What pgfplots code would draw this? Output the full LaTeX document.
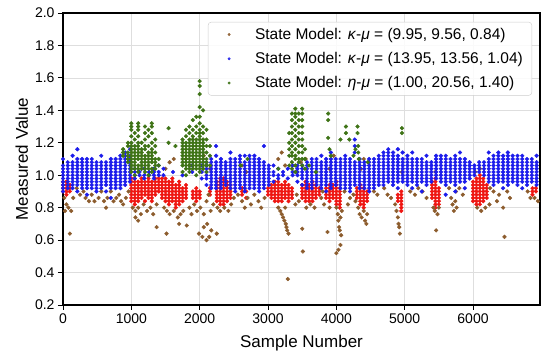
\documentclass[border=0pt]{standalone}
\usepackage{pgfplots}
\usepackage{pgfplotstable}
\pgfplotsset{compat=1.18}
\usepackage{fontspec}
\setmainfont{Liberation Sans}
\definecolor{cRed}{RGB}{238,22,18}
\definecolor{cBrown}{RGB}{140,92,45}
\definecolor{cBlue}{RGB}{28,28,235}
\definecolor{cGreen}{RGB}{62,115,22}

\pgfplotstableread{
x a b c d e f g h i j
0 0.90 0.92 0.94 0.96 nan nan nan nan nan nan
50 0.88 0.90 0.92 0.94 0.96 nan nan nan nan nan
100 0.90 0.92 0.94 nan nan nan nan nan nan nan
1000 0.84 0.86 0.88 0.90 0.92 0.94 0.96 0.98 nan nan
1050 0.82 0.84 0.86 0.88 0.90 0.92 0.94 0.96 0.98 nan
1100 0.84 0.86 0.88 0.90 0.92 0.94 0.96 nan nan nan
1150 0.86 0.88 0.90 0.92 0.94 0.96 0.98 nan nan nan
1200 0.84 0.88 0.90 0.92 0.94 0.96 nan nan nan nan
1250 0.86 0.88 0.90 0.92 0.94 0.96 0.98 nan nan nan
1300 0.84 0.86 0.88 0.90 0.92 0.94 0.96 nan nan nan
1350 0.88 0.90 0.92 0.94 0.96 0.98 nan nan nan nan
1400 0.90 0.92 0.94 0.96 0.98 nan nan nan nan nan
1450 0.86 0.88 0.90 0.92 0.94 0.96 0.98 nan nan nan
1500 0.84 0.86 0.88 0.90 0.92 0.94 0.96 0.98 nan nan
1550 0.82 0.84 0.86 0.88 0.90 0.92 0.94 0.96 nan nan
1600 0.84 0.86 0.88 0.90 0.92 0.94 0.96 0.98 nan nan
1650 0.80 0.82 0.84 0.86 0.88 0.90 0.92 0.94 nan nan
1700 0.82 0.84 0.86 0.88 0.90 0.92 0.94 0.96 nan nan
1750 0.84 0.86 0.88 0.90 0.92 nan nan nan nan nan
1800 0.86 0.88 0.90 0.92 0.94 nan nan nan nan nan
1900 0.86 0.88 0.90 nan nan nan nan nan nan nan
1950 0.84 0.86 0.88 0.90 0.92 nan nan nan nan nan
2000 0.86 0.88 0.90 nan nan nan nan nan nan nan
2150 0.88 0.90 0.92 nan nan nan nan nan nan nan
2250 0.84 0.86 0.88 0.90 0.92 0.94 0.96 nan nan nan
2300 0.82 0.84 0.86 0.88 0.90 0.92 0.94 0.96 0.98 nan
2350 0.82 0.84 0.86 0.88 0.90 0.92 0.94 0.96 0.98 nan
2400 0.84 0.86 0.88 0.90 0.92 0.94 0.96 nan nan nan
2450 0.86 0.88 0.90 0.92 0.94 nan nan nan nan nan
2620 0.88 0.90 0.92 nan nan nan nan nan nan nan
2680 0.86 0.90 nan nan nan nan nan nan nan nan
3000 0.88 0.90 0.92 nan nan nan nan nan nan nan
3050 0.86 0.88 0.90 0.92 0.94 nan nan nan nan nan
3100 0.84 0.86 0.88 0.90 0.92 0.94 0.96 nan nan nan
3150 0.84 0.86 0.88 0.90 0.92 0.94 0.96 nan nan nan
3200 0.84 0.86 0.88 0.90 0.92 0.94 nan nan nan nan
3250 0.86 0.88 0.90 0.92 0.94 0.96 nan nan nan nan
3300 0.84 0.86 0.88 0.90 0.92 0.94 nan nan nan nan
3350 0.86 0.88 0.90 0.92 nan nan nan nan nan nan
3500 0.86 0.88 0.90 0.92 0.94 nan nan nan nan nan
3550 0.84 0.86 0.88 0.90 0.92 0.94 0.96 nan nan nan
3600 0.84 0.86 0.88 0.90 0.92 0.94 nan nan nan nan
3650 0.84 0.86 0.88 0.90 0.92 0.94 0.96 nan nan nan
3700 0.86 0.88 0.90 0.92 0.94 nan nan nan nan nan
3750 0.88 0.90 0.92 nan nan nan nan nan nan nan
3850 0.86 0.88 0.90 0.92 nan nan nan nan nan nan
3900 0.84 0.86 0.88 0.90 0.92 0.94 nan nan nan nan
3950 0.86 0.88 0.90 0.92 0.94 nan nan nan nan nan
4000 0.82 0.84 0.86 0.88 0.90 0.92 0.94 0.96 nan nan
4050 0.80 0.82 0.84 0.86 0.88 0.90 0.92 nan nan nan
4300 0.86 0.88 0.90 0.92 nan nan nan nan nan nan
4350 0.82 0.84 0.86 0.88 0.90 0.92 0.94 nan nan nan
4400 0.80 0.82 0.84 0.86 0.88 0.90 0.92 nan nan nan
4450 0.84 0.86 0.88 0.90 nan nan nan nan nan nan
4900 0.84 0.86 0.88 nan nan nan nan nan nan nan
4950 0.78 0.80 0.82 0.84 0.86 0.88 0.90 nan nan nan
5400 0.86 0.88 0.90 0.92 0.94 0.96 nan nan nan nan
5450 0.80 0.82 0.84 0.86 0.88 0.90 0.92 0.94 0.96 0.98
5500 0.82 0.84 0.86 0.88 0.90 0.92 nan nan nan nan
6000 0.84 0.86 0.88 0.90 0.92 0.94 0.96 nan nan nan
6050 0.82 0.84 0.86 0.88 0.90 0.92 0.94 0.96 0.98 nan
6100 0.82 0.84 0.86 0.88 0.90 0.92 0.94 0.96 0.98 1.00
6150 0.84 0.86 0.88 0.90 0.92 0.94 0.96 0.98 nan nan
6200 0.86 0.88 0.90 0.92 0.94 nan nan nan nan nan
6870 0.88 0.90 0.92 nan nan nan nan nan nan nan
6920 0.90 0.92 nan nan nan nan nan nan nan nan
}\redT

\pgfplotstableread{
x a b c d e f g h i j k
0 0.90 0.92 0.94 0.96 0.98 1.00 1.02 1.04 1.06 1.10 nan
70 0.92 0.94 0.96 0.98 1.00 1.02 1.04 1.06 1.08 nan nan
140 0.92 0.94 0.96 0.98 1.00 1.02 1.04 1.06 1.08 1.12 nan
210 0.90 0.94 0.96 0.98 1.00 1.02 1.04 1.06 1.08 1.10 1.16
280 0.92 0.94 0.96 0.98 1.00 1.02 1.04 1.06 1.08 1.10 nan
350 0.88 0.92 0.94 0.96 0.98 1.00 1.02 1.04 1.06 1.08 1.10
420 0.92 0.94 0.96 0.98 1.00 1.02 1.04 1.06 1.08 1.10 nan
490 0.90 0.92 0.94 0.96 0.98 1.00 1.02 1.04 1.06 1.08 nan
560 0.92 0.94 0.96 0.98 1.00 1.02 1.04 1.06 1.08 1.12 nan
630 0.90 0.94 0.96 0.98 1.00 1.02 1.04 1.06 1.08 nan nan
700 0.86 0.92 0.94 0.96 0.98 1.00 1.02 1.04 1.06 1.08 1.10
770 0.92 0.94 0.96 0.98 1.00 1.02 1.04 1.06 1.08 1.10 nan
840 0.92 0.94 0.96 0.98 1.00 1.02 1.04 1.06 1.08 1.10 1.12
910 0.94 0.96 0.98 1.00 1.02 1.04 1.06 1.08 1.10 1.12 1.14
980 0.96 0.98 1.00 1.02 1.04 1.06 1.08 1.10 1.12 1.16 nan
1050 0.98 1.00 1.02 1.04 nan nan nan nan nan nan nan
1120 1.00 1.02 nan nan nan nan nan nan nan nan nan
1190 0.98 1.00 1.04 nan nan nan nan nan nan nan nan
1260 1.00 1.02 nan nan nan nan nan nan nan nan nan
1330 0.98 1.00 1.02 1.04 nan nan nan nan nan nan nan
1400 1.00 1.02 1.06 nan nan nan nan nan nan nan nan
1470 1.00 1.04 nan nan nan nan nan nan nan nan nan
1610 1.02 nan nan nan nan nan nan nan nan nan nan
1750 1.00 nan nan nan nan nan nan nan nan nan nan
1890 1.02 1.06 nan nan nan nan nan nan nan nan nan
2030 0.98 1.02 1.06 nan nan nan nan nan nan nan nan
2100 0.94 0.98 1.00 1.02 1.04 1.06 1.08 nan nan nan nan
2170 0.92 0.94 0.96 0.98 1.00 1.02 1.04 1.06 1.08 1.10 nan
2240 0.92 0.94 0.96 0.98 1.00 1.02 1.04 1.06 1.08 1.12 1.18
2310 0.92 0.94 0.96 0.98 1.00 1.02 1.04 1.06 1.08 1.10 nan
2380 0.94 0.96 0.98 1.00 1.02 1.04 1.06 1.08 nan nan nan
2450 0.92 0.94 0.96 0.98 1.00 1.02 1.04 1.06 1.08 1.10 1.14
2520 0.90 0.92 0.94 0.96 0.98 1.00 1.02 1.04 1.06 1.08 1.10
2590 0.92 0.94 0.96 0.98 1.00 1.02 1.04 1.06 1.08 1.10 1.12
2660 0.90 0.92 0.94 0.96 0.98 1.00 1.02 1.04 1.06 1.08 1.12
2730 0.92 0.94 0.96 0.98 1.00 1.02 1.04 1.06 1.08 1.10 1.12
2800 0.92 0.94 0.96 0.98 1.00 1.02 1.04 1.06 1.08 1.10 1.12
2870 0.90 0.92 0.94 0.96 0.98 1.00 1.02 1.04 1.06 1.08 1.10
2940 0.92 0.94 0.96 0.98 1.00 1.02 1.04 1.06 1.08 1.18 nan
3010 0.94 0.96 0.98 1.00 1.02 1.04 1.06 nan nan nan nan
3080 0.96 1.00 1.02 1.06 nan nan nan nan nan nan nan
3150 0.98 1.00 1.04 nan nan nan nan nan nan nan nan
3220 1.00 1.02 nan nan nan nan nan nan nan nan nan
3290 0.98 1.04 nan nan nan nan nan nan nan nan nan
3360 1.00 1.02 1.06 nan nan nan nan nan nan nan nan
3430 0.96 1.00 1.02 1.04 1.06 nan nan nan nan nan nan
3500 0.94 0.98 1.00 1.02 1.04 1.06 nan nan nan nan nan
3570 0.92 0.94 0.96 0.98 1.00 1.02 1.04 1.06 1.08 nan nan
3640 0.92 0.94 0.96 0.98 1.00 1.02 1.04 1.06 1.08 1.10 nan
3710 0.94 0.96 0.98 1.00 1.02 1.04 1.06 1.08 1.10 nan nan
3780 0.92 0.94 0.96 0.98 1.00 1.02 1.04 1.06 1.08 1.12 nan
3850 0.90 0.94 0.96 0.98 1.00 1.02 1.04 1.06 1.08 1.10 nan
3920 0.92 0.94 0.96 0.98 1.00 1.02 1.04 1.06 1.08 1.10 1.14
3990 0.94 0.96 0.98 1.00 1.02 1.04 1.06 1.08 1.10 nan nan
4060 0.92 0.94 0.96 0.98 1.00 1.02 1.04 1.06 1.08 1.10 nan
4130 0.92 0.94 0.96 0.98 1.00 1.02 1.04 1.06 1.08 1.10 1.12
4200 0.90 0.92 0.94 0.96 0.98 1.00 1.02 1.04 1.06 1.08 1.10
4270 0.94 0.96 0.98 1.00 1.02 1.04 1.06 1.08 1.14 1.18 1.22
4340 0.92 0.94 0.96 0.98 1.00 1.02 1.04 1.06 1.08 1.10 nan
4410 0.92 0.94 0.96 0.98 1.00 1.02 1.04 1.06 1.08 nan nan
4480 0.90 0.92 0.94 0.96 0.98 1.00 1.02 1.04 1.06 1.08 1.10
4550 0.92 0.94 0.96 0.98 1.00 1.02 1.04 1.06 1.08 1.10 nan
4620 0.94 0.96 0.98 1.00 1.02 1.04 1.06 1.08 1.10 1.12 nan
4690 0.94 0.96 0.98 1.00 1.02 1.04 1.06 1.08 1.10 1.12 1.14
4760 0.96 0.98 1.00 1.02 1.04 1.06 1.08 1.10 1.12 1.14 1.16
4830 0.94 0.96 0.98 1.00 1.02 1.04 1.06 1.08 1.10 1.12 1.14
4900 0.92 0.96 0.98 1.00 1.02 1.04 1.06 1.08 1.10 1.12 1.16
4970 0.96 0.98 1.00 1.02 1.04 1.06 1.08 1.10 1.14 nan nan
5040 0.94 0.96 0.98 1.00 1.02 1.04 1.06 1.08 1.10 1.12 nan
5110 0.92 0.96 0.98 1.00 1.02 1.04 1.06 1.08 1.10 1.14 nan
5180 0.94 0.96 0.98 1.00 1.02 1.04 1.06 1.08 1.10 nan nan
5250 0.90 0.96 0.98 1.00 1.02 1.04 1.06 1.08 1.10 nan nan
5320 0.94 0.96 0.98 1.00 1.02 1.04 1.06 1.08 1.12 nan nan
5390 0.96 0.98 1.00 1.02 1.04 1.06 1.08 nan nan nan nan
5460 0.98 1.00 1.02 1.04 1.06 1.08 1.10 1.12 nan nan nan
5530 0.96 0.98 1.00 1.02 1.04 1.06 1.08 1.10 1.12 nan nan
5600 0.88 0.94 0.96 0.98 1.00 1.02 1.04 1.06 1.08 1.10 1.12
5670 0.96 0.98 1.00 1.02 1.04 1.06 1.08 1.10 nan nan nan
5740 0.90 0.94 0.96 0.98 1.00 1.02 1.04 1.06 1.08 1.10 1.12
5810 0.96 0.98 1.00 1.02 1.04 1.06 1.08 1.10 1.14 nan nan
5880 0.92 0.96 0.98 1.00 1.02 1.04 1.06 1.08 1.10 nan nan
5950 0.98 1.00 1.02 1.04 1.06 1.08 nan nan nan nan nan
6020 1.00 1.02 1.04 1.06 nan nan nan nan nan nan nan
6090 1.02 1.04 1.06 1.08 nan nan nan nan nan nan nan
6160 1.00 1.02 1.04 1.06 1.08 nan nan nan nan nan nan
6230 0.96 0.98 1.00 1.02 1.04 1.06 1.08 1.10 1.14 nan nan
6300 0.94 0.96 0.98 1.00 1.02 1.04 1.06 1.08 1.10 1.12 nan
6370 0.96 0.98 1.00 1.02 1.04 1.06 1.08 1.10 1.12 1.14 nan
6440 0.92 0.96 0.98 1.00 1.02 1.04 1.06 1.08 1.10 1.12 nan
6510 0.94 0.96 0.98 1.00 1.02 1.04 1.06 1.08 1.10 1.12 1.14
6580 0.96 0.98 1.00 1.02 1.04 1.06 1.08 1.10 1.12 nan nan
6650 0.94 0.96 0.98 1.00 1.02 1.04 1.06 1.08 1.10 1.12 nan
6720 0.92 0.96 0.98 1.00 1.02 1.04 1.06 1.08 1.10 1.12 nan
6790 0.94 0.96 0.98 1.00 1.02 1.04 1.06 1.08 1.10 nan nan
6860 0.96 0.98 1.00 1.02 1.04 1.06 1.08 1.10 nan nan nan
6930 0.94 0.96 0.98 1.00 1.02 1.04 1.06 1.08 1.12 nan nan
}\blueT

\pgfplotstableread{
x a b c d e f g h i j
880 1.12 1.14 1.16 nan nan nan nan nan nan nan
950 1.08 1.10 1.12 1.14 1.18 1.20 nan nan nan nan
1000 1.02 1.04 1.06 1.08 1.10 1.12 1.14 1.16 1.18 1.20
1000 1.24 1.28 1.30 1.32 nan nan nan nan nan nan
1050 1.00 1.04 1.06 1.08 1.10 1.12 1.14 1.16 1.18 1.22
1050 1.26 nan nan nan nan nan nan nan nan nan
1100 1.02 1.04 1.06 1.10 1.12 1.14 1.16 1.18 1.20 1.24
1100 1.28 1.30 1.32 nan nan nan nan nan nan nan
1150 1.04 1.06 1.08 1.10 1.12 1.14 1.16 1.20 nan nan
1200 1.02 1.04 1.06 1.08 1.10 1.12 1.16 1.18 1.22 1.26
1200 1.30 nan nan nan nan nan nan nan nan nan
1250 1.00 1.04 1.06 1.08 1.10 1.12 1.14 1.18 1.24 1.28
1300 1.02 1.04 1.08 1.10 1.12 1.14 1.16 1.20 1.26 1.30
1300 1.32 nan nan nan nan nan nan nan nan nan
1350 1.04 1.06 1.08 1.10 1.14 1.18 1.22 nan nan nan
1400 1.06 1.10 nan nan nan nan nan nan nan nan
1545 1.20 1.29 nan nan nan nan nan nan nan nan
1645 1.18 nan nan nan nan nan nan nan nan nan
1750 1.02 1.06 1.08 1.10 1.12 1.14 1.16 1.18 1.20 1.22
1800 1.00 1.04 1.06 1.08 1.10 1.12 1.14 1.16 1.18 1.20
1800 1.24 1.28 nan nan nan nan nan nan nan nan
1850 1.02 1.04 1.06 1.08 1.10 1.12 1.14 1.16 1.18 1.20
1850 1.22 1.26 1.30 nan nan nan nan nan nan nan
1900 1.04 1.06 1.08 1.10 1.12 1.14 1.16 1.18 1.20 1.22
1900 1.24 1.28 1.34 nan nan nan nan nan nan nan
1950 1.00 1.04 1.06 1.08 1.10 1.12 1.14 1.16 1.18 1.20
1950 1.22 1.26 1.30 1.36 nan nan nan nan nan nan
2000 1.02 1.04 1.06 1.08 1.10 1.12 1.14 1.16 1.18 1.20
2000 1.22 1.24 1.26 1.28 1.32 1.36 1.42 1.50 1.55 1.58
2050 1.04 1.06 1.08 1.10 1.12 1.14 1.16 1.18 1.20 1.22
2050 1.26 1.30 1.40 nan nan nan nan nan nan nan
2100 1.02 1.06 1.08 1.10 1.14 1.18 1.22 1.28 nan nan
2150 1.06 1.12 1.18 nan nan nan nan nan nan nan
2600 1.06 nan nan nan nan nan nan nan nan nan
2700 1.10 nan nan nan nan nan nan nan nan nan
3150 1.04 nan nan nan nan nan nan nan nan nan
3310 1.06 1.12 1.16 1.20 1.26 nan nan nan nan nan
3350 1.04 1.08 1.12 1.14 1.18 1.22 1.26 1.30 1.34 1.38
3400 1.02 1.06 1.10 1.12 1.16 1.20 1.24 1.28 1.32 1.36
3400 1.38 1.41 nan nan nan nan nan nan nan nan
3450 1.08 1.10 1.14 1.18 1.22 1.26 1.30 1.34 1.38 nan
3500 1.06 1.10 1.14 1.18 1.22 1.26 1.30 1.34 1.38 1.41
3540 1.04 1.10 1.16 nan nan nan nan nan nan nan
3600 1.06 nan nan nan nan nan nan nan nan nan
3700 1.02 nan nan nan nan nan nan nan nan nan
3880 1.23 1.34 1.38 nan nan nan nan nan nan nan
3900 1.16 nan nan nan nan nan nan nan nan nan
3920 1.12 nan nan nan nan nan nan nan nan nan
4060 1.22 nan nan nan nan nan nan nan nan nan
4140 1.26 1.30 nan nan nan nan nan nan nan nan
4190 1.22 nan nan nan nan nan nan nan nan nan
4250 1.12 nan nan nan nan nan nan nan nan nan
4280 1.16 nan nan nan nan nan nan nan nan nan
4310 1.26 1.30 nan nan nan nan nan nan nan nan
4320 1.14 1.18 nan nan nan nan nan nan nan nan
4330 1.10 nan nan nan nan nan nan nan nan nan
4460 1.08 nan nan nan nan nan nan nan nan nan
4960 1.26 1.29 nan nan nan nan nan nan nan nan
}\greenT

\pgfplotsset{
  dotbase/.style={only marks, mark=*, mark size=1.9pt, mark options={draw=none}},
  rdot/.style={dotbase, color=cRed, forget plot},
  bdot/.style={dotbase, color=cBlue},
  gdot/.style={dotbase, color=cGreen},
  wdot/.style={dotbase, color=cBrown},
}

\begin{document}
\begin{tikzpicture}
\begin{axis}[
  scale only axis, width=477pt, height=292pt,
  xmin=0, xmax=6980, ymin=0.2, ymax=2.0,
  xtick={0,1000,2000,3000,4000,5000,6000},
  ytick={0.2,0.4,0.6,0.8,1.0,1.2,1.4,1.6,1.8,2.0},
  /pgf/number format/assume math mode=true,
  xticklabel style={/pgf/number format/1000 sep={}},
  yticklabel style={/pgf/number format/.cd, fixed, fixed zerofill, precision=1},
  tick label style={font=\fontsize{14}{16}\selectfont},
  label style={font=\fontsize{17}{20}\selectfont},
  xlabel={Sample Number}, ylabel={Measured Value},
  xlabel style={yshift=-5pt},
  grid=major, major grid style={draw=black!13, line width=0.6pt},
  tick align=outside, tick pos=left, major tick length=5pt,
  every tick/.style={black, line width=0.9pt},
  axis line style={line width=1.1pt},
  legend cell align=left,
  legend image code/.code={\path[draw=none, fill=none] (0cm,-0.1cm) rectangle (0.98cm,0.1cm);
    \draw[mark repeat=2, mark phase=2, #1, mark size=1.2pt] plot coordinates {(0cm,0cm) (0.49cm,0cm) (0.98cm,0cm)};},
  legend style={at={(1,1)}, anchor=north east, xshift=-8pt, yshift=-9pt,
    draw=black!20, rounded corners=3pt, fill=white, fill opacity=0.85, text opacity=1,
    font=\fontsize{15.5}{19}\selectfont, row sep=7.5pt, inner xsep=7pt, inner ysep=4pt,
    /tikz/every odd column/.append style={column sep=10pt}},
]
\addplot[rdot] table[x=x,y=a]{\redT};
\addplot[rdot] table[x=x,y=b]{\redT};
\addplot[rdot] table[x=x,y=c]{\redT};
\addplot[rdot] table[x=x,y=d]{\redT};
\addplot[rdot] table[x=x,y=e]{\redT};
\addplot[rdot] table[x=x,y=f]{\redT};
\addplot[rdot] table[x=x,y=g]{\redT};
\addplot[rdot] table[x=x,y=h]{\redT};
\addplot[rdot] table[x=x,y=i]{\redT};
\addplot[rdot] table[x=x,y=j]{\redT};

\addplot[wdot] coordinates {
(20,0.86)(50,0.82)(80,0.80)(120,0.78)(150,0.86)(30,0.78)(100,0.64)
(200,0.92)(250,0.88)(300,0.90)(330,0.86)(380,0.84)(420,0.88)(460,0.84)(520,0.86)(560,0.90)(600,0.84)(630,0.80)(650,0.86)(700,0.90)(740,0.84)(780,0.86)(820,0.88)(850,0.84)(880,0.82)(920,0.86)(960,0.90)
(1020,0.80)(1060,0.78)(1100,0.80)(1140,0.76)(1180,0.82)(1230,0.78)(1280,0.80)(1320,0.76)(1370,0.82)(1370,0.68)(1060,0.74)(1100,0.72)
(1515,0.64)(1480,0.80)(1520,0.78)(1560,0.76)(1620,0.78)(1680,0.74)(1720,0.76)(1760,0.78)(1700,0.70)(1810,0.69)
(1850,0.80)(1880,0.76)(1920,0.82)(1960,0.78)(2010,0.80)(2060,0.76)(2100,0.84)(2130,0.88)(2160,0.78)(2200,0.82)
(1990,0.64)(2040,0.62)(2100,0.60)(2140,0.62)(2170,0.66)(2060,0.68)(2110,0.70)(2250,0.64)
(2260,0.80)(2300,0.78)(2360,0.80)(2420,0.78)(2460,0.82)(2500,0.86)
(2560,0.88)(2620,0.84)(2660,0.80)(2700,0.86)(2750,0.82)(2800,0.88)(2860,0.84)(2900,0.80)(2950,0.86)
(3150,0.80)(3180,0.78)(3200,0.76)(3220,0.74)(3240,0.72)(3260,0.70)(3270,0.68)(3280,0.66)(3300,0.64)(3250,0.80)(3290,0.36)
(3400,0.82)(3420,0.88)(3450,0.84)(3500,0.67)(3510,0.53)(3560,0.80)(3620,0.82)(3680,0.80)
(3780,0.86)(3800,0.90)(3820,0.82)(3870,0.65)(3900,0.80)
(4000,0.52)(4030,0.54)(4060,0.57)(4070,0.63)(4050,0.66)(4040,0.68)(4030,0.72)(4060,0.74)(4020,0.76)(4080,0.78)(4000,0.80)
(4120,0.90)(4170,0.82)(4200,0.86)(4250,0.88)(4280,0.84)
(4320,0.80)(4340,0.76)(4370,0.74)(4400,0.78)(4420,0.72)(4440,0.70)(4450,0.76)
(4550,0.90)(4600,0.88)(4700,0.92)(4750,0.88)
(4800,0.86)(4860,0.82)(4880,0.78)(4900,0.74)(4910,0.70)(4920,0.68)(4930,0.64)
(5080,0.90)(5150,0.88)(5200,0.92)(5260,0.90)(5320,0.86)
(5420,0.80)(5440,0.78)(5480,0.76)(5500,0.80)(5460,0.66)
(5650,0.92)(5680,0.86)(5700,0.82)(5720,0.78)(5740,0.84)(5760,0.80)(5750,0.90)(5800,0.92)(5850,0.88)
(6060,0.80)(6120,0.78)(6180,0.80)(6240,0.82)(6250,0.92)(6300,0.90)(6350,0.84)(6380,0.88)(6440,0.80)(6460,0.62)(6500,0.90)(6540,0.86)
(6800,0.90)(6840,0.86)(6950,0.84)(6900,0.86)
(1500,1.04)(1560,1.08)(1620,1.10)(2620,1.06)(2680,1.02)(3150,1.10)(3200,1.14)(3250,1.06)(3420,1.02)(3480,1.08)(3550,1.10)(3900,1.04)(3960,1.12)(4360,1.04)(4400,1.10)(4960,1.02)(1800,1.10)(1850,1.06)(2060,1.12)(2150,1.04)(5450,1.02)(6030,1.02)(6100,1.04)
};
\addlegendentry{State Model: \textit{κ}-\textit{μ} = (9.95, 9.56, 0.84)}

\addplot[bdot] table[x=x,y=a]{\blueT};
\addlegendentry{State Model: \textit{κ}-\textit{μ} = (13.95, 13.56, 1.04)}
\addplot[bdot, forget plot] table[x=x,y=b]{\blueT};
\addplot[bdot, forget plot] table[x=x,y=c]{\blueT};
\addplot[bdot, forget plot] table[x=x,y=d]{\blueT};
\addplot[bdot, forget plot] table[x=x,y=e]{\blueT};
\addplot[bdot, forget plot] table[x=x,y=f]{\blueT};
\addplot[bdot, forget plot] table[x=x,y=g]{\blueT};
\addplot[bdot, forget plot] table[x=x,y=h]{\blueT};
\addplot[bdot, forget plot] table[x=x,y=i]{\blueT};
\addplot[bdot, forget plot] table[x=x,y=j]{\blueT};
\addplot[bdot, forget plot] table[x=x,y=k]{\blueT};

\addplot[gdot] table[x=x,y=a]{\greenT};
\addlegendentry{State Model: \textit{η}-\textit{μ} = (1.00, 20.56, 1.40)}
\addplot[gdot, forget plot] table[x=x,y=b]{\greenT};
\addplot[gdot, forget plot] table[x=x,y=c]{\greenT};
\addplot[gdot, forget plot] table[x=x,y=d]{\greenT};
\addplot[gdot, forget plot] table[x=x,y=e]{\greenT};
\addplot[gdot, forget plot] table[x=x,y=f]{\greenT};
\addplot[gdot, forget plot] table[x=x,y=g]{\greenT};
\addplot[gdot, forget plot] table[x=x,y=h]{\greenT};
\addplot[gdot, forget plot] table[x=x,y=i]{\greenT};
\addplot[gdot, forget plot] table[x=x,y=j]{\greenT};
\end{axis}
\pgfresetboundingbox
\path ([shift={(-63pt,-49pt)}]current axis.south west) rectangle ([shift={(10pt,13pt)}]current axis.north east);
\end{tikzpicture}
\end{document}
